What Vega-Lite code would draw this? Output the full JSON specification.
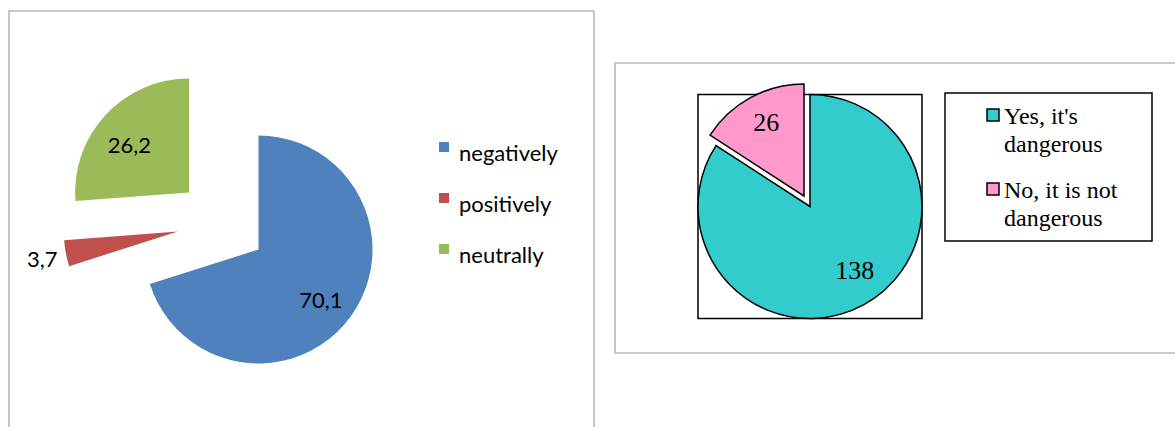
{
  "$schema": "https://vega.github.io/schema/vega-lite/v6.json",
  "padding": {"left": 8, "top": 10, "right": 0, "bottom": 0},
  "background": "white",
  "spacing": 21,
  "bounds": "flush",
  "config": {"view": {"stroke": null}, "font": "Lato"},
  "resolve": {"scale": {"color": "independent", "theta": "independent"}, "legend": {"color": "independent"}},
  "hconcat": [
    {
      "width": 585,
      "height": 417,
      "data": {"values": [
        {"attitude": "negatively", "share": 70.1, "label": "70,1"},
        {"attitude": "positively", "share": 3.7, "label": "3,7"},
        {"attitude": "neutrally", "share": 26.2, "label": "26,2"}
      ]},
      "transform": [
        {"window": [{"op": "row_number", "as": "idx"}]},
        {"stack": "share", "groupby": [], "sort": [{"field": "idx", "order": "ascending"}], "as": ["s0", "s1"]}
      ],
      "encoding": {
        "color": {
          "field": "attitude", "type": "nominal",
          "scale": {"domain": ["negatively", "positively", "neutrally"], "range": ["#4F81BD", "#C0504D", "#9BBB59"]},
          "legend": {
            "orient": "none", "legendX": 424, "legendY": 125, "title": null,
            "symbolType": "square", "symbolSize": 100, "symbolStrokeWidth": 0,
            "labelFont": "Lato", "labelFontSize": 22, "labelColor": "black",
            "rowPadding": 22, "labelOffset": 4, "padding": 0,
            "encode": {"labels": {"update": {"dy": {"value": 7}}}}
          }
        }
      },
      "layer": [
        {
          "transform": [{"filter": "datum.idx == 1"}],
          "mark": {"type": "rect", "stroke": "#b8b8b8", "strokeWidth": 1.6},
          "encoding": {"color": {"value": "transparent"}}
        },
        {
          "transform": [{"filter": "datum.attitude == 'negatively'"}],
          "mark": {"type": "arc", "radius": 114, "xOffset": -43, "yOffset": 30},
          "encoding": {"theta": {"field": "s0", "type": "quantitative", "scale": {"domain": [0, 100]}}, "theta2": {"field": "s1"}}
        },
        {
          "transform": [{"filter": "datum.attitude == 'positively'"}],
          "mark": {"type": "arc", "radius": 114, "xOffset": -123.7, "yOffset": 12.1},
          "encoding": {"theta": {"field": "s0", "type": "quantitative", "scale": {"domain": [0, 100]}}, "theta2": {"field": "s1"}}
        },
        {
          "transform": [{"filter": "datum.attitude == 'neutrally'"}],
          "mark": {"type": "arc", "radius": 114, "xOffset": -112.4, "yOffset": -27.1},
          "encoding": {"theta": {"field": "s0", "type": "quantitative", "scale": {"domain": [0, 100]}}, "theta2": {"field": "s1"}}
        },
        {
          "mark": {"type": "text", "radius": 81, "xOffset": -43, "yOffset": 30, "dx": -3, "dy": 4, "font": "Lato", "fontSize": 22},
          "encoding": {
            "theta": {"field": "share", "type": "quantitative", "stack": true, "scale": {"domain": [0, 100]}},
            "order": {"field": "idx", "type": "quantitative"},
            "color": {"value": "black"},
            "text": {"condition": {"test": "datum.attitude == 'negatively'", "field": "label", "type": "nominal"}, "value": ""}
          }
        },
        {
          "mark": {"type": "text", "radius": 138, "xOffset": -123.7, "yOffset": 12.1, "dy": 2, "font": "Lato", "fontSize": 22},
          "encoding": {
            "theta": {"field": "share", "type": "quantitative", "stack": true, "scale": {"domain": [0, 100]}},
            "order": {"field": "idx", "type": "quantitative"},
            "color": {"value": "black"},
            "text": {"condition": {"test": "datum.attitude == 'positively'", "field": "label", "type": "nominal"}, "value": ""}
          }
        },
        {
          "mark": {"type": "text", "radius": 76, "xOffset": -112.4, "yOffset": -27.1, "dx": -4, "dy": 5, "font": "Lato", "fontSize": 22},
          "encoding": {
            "theta": {"field": "share", "type": "quantitative", "stack": true, "scale": {"domain": [0, 100]}},
            "order": {"field": "idx", "type": "quantitative"},
            "color": {"value": "black"},
            "text": {"condition": {"test": "datum.attitude == 'neutrally'", "field": "label", "type": "nominal"}, "value": ""}
          }
        }
      ]
    },
    {
      "spacing": 0,
      "bounds": "flush",
      "vconcat": [
        {
          "width": 561,
          "height": 52,
          "data": {"values": []},
          "mark": {"type": "rect", "opacity": 0}
        },
        {
          "width": 561,
          "height": 290,
          "data": {"values": [
            {"answer": "Yes, it's dangerous", "count": 138},
            {"answer": "No, it is not dangerous", "count": 26}
          ]},
          "transform": [
            {"window": [{"op": "row_number", "as": "idx"}]},
            {"stack": "count", "groupby": [], "sort": [{"field": "idx", "order": "ascending"}], "as": ["c0", "c1"]}
          ],
          "encoding": {
            "color": {
              "field": "answer", "type": "nominal",
              "scale": {"domain": ["Yes, it's dangerous", "No, it is not dangerous"], "range": ["#33CCCC", "#FF99CC"]},
              "legend": {
                "orient": "none", "legendX": 330, "legendY": 82,
                "title": " ", "titleOrient": "right", "titleFontSize": 1, "titlePadding": 25,
                "symbolType": "square", "symbolSize": 144, "symbolStrokeColor": "black", "symbolStrokeWidth": 1.5,
                "labelFont": "Liberation Serif", "labelFontSize": 24, "labelColor": "black",
                "labelBaseline": "top", "labelOffset": -1, "symbolOffset": 26, "labelLimit": 300,
                "padding": 10, "rowPadding": 20, "strokeColor": "black",
                "labelExpr": "datum.label == 'No, it is not dangerous' ? ['No, it is not', 'dangerous'] : [\"Yes, it's\", 'dangerous']",
                "encode": {
                  "legend": {"update": {"strokeWidth": {"value": 1.5}}},
                  "labels": {"update": {"lineHeight": {"value": 28}, "dy": {"value": -10}, "font": {"value": "Liberation Serif"}}}
                }
              }
            }
          },
          "layer": [
            {
              "transform": [{"filter": "datum.idx == 1"}],
              "mark": {"type": "rect", "stroke": "#b8b8b8", "strokeWidth": 1.6},
              "encoding": {"color": {"value": "transparent"}}
            },
            {
              "transform": [{"filter": "datum.idx == 1"}],
              "mark": {"type": "point", "shape": "square", "size": 50176, "filled": false, "strokeWidth": 1.5, "opacity": 1, "xOffset": -85.5, "yOffset": -1.5},
              "encoding": {"color": {"value": "black"}}
            },
            {
              "transform": [{"filter": "datum.idx == 1"}],
              "mark": {"type": "arc", "radius": 112, "stroke": "black", "strokeWidth": 1.5, "xOffset": -85.5, "yOffset": -1.5},
              "encoding": {"theta": {"field": "c0", "type": "quantitative", "scale": {"domain": [0, 164]}}, "theta2": {"field": "c1"}}
            },
            {
              "transform": [{"filter": "datum.idx == 2"}],
              "mark": {"type": "arc", "radius": 112, "stroke": "black", "strokeWidth": 1.5, "xOffset": -91.5, "yOffset": -12},
              "encoding": {"theta": {"field": "c0", "type": "quantitative", "scale": {"domain": [0, 164]}}, "theta2": {"field": "c1"}}
            },
            {
              "mark": {"type": "text", "radius": 79, "xOffset": -85.5, "yOffset": -1.5, "dx": 7, "dy": -5, "font": "Liberation Serif", "fontSize": 26},
              "encoding": {
                "theta": {"field": "count", "type": "quantitative", "stack": true, "scale": {"domain": [0, 164]}},
                "order": {"field": "idx", "type": "quantitative"},
                "color": {"value": "black"},
                "text": {"condition": {"test": "datum.idx == 1", "field": "count", "type": "quantitative"}, "value": ""}
              }
            },
            {
              "mark": {"type": "text", "radius": 83, "xOffset": -91.5, "yOffset": -12, "dx": 2, "font": "Liberation Serif", "fontSize": 26},
              "encoding": {
                "theta": {"field": "count", "type": "quantitative", "stack": true, "scale": {"domain": [0, 164]}},
                "order": {"field": "idx", "type": "quantitative"},
                "color": {"value": "black"},
                "text": {"condition": {"test": "datum.idx == 2", "field": "count", "type": "quantitative"}, "value": ""}
              }
            }
          ]
        }
      ]
    }
  ]
}
